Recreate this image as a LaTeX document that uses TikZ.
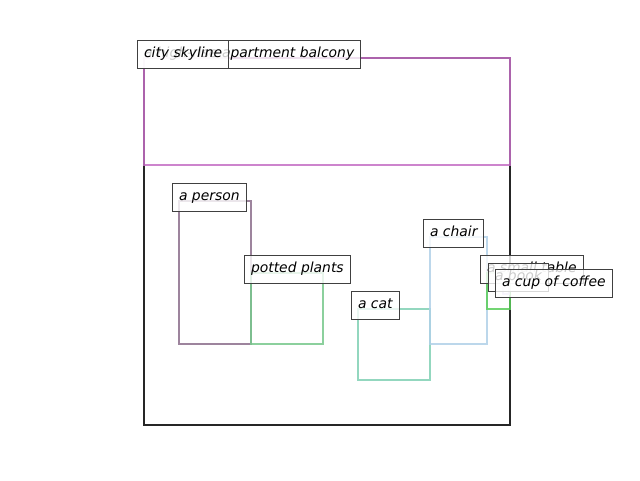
\documentclass[tikz,border=0pt]{standalone}
\usepackage{fontspec}
\setmainfont{DejaVu Sans}
\begin{document}
\begin{tikzpicture}[x=1pt,y=-1pt,
  bx/.style={line width=2.4pt, draw opacity=0.85},
  lbl/.style={draw=black!75, line width=1pt, fill=white, fill opacity=0.8, text opacity=1,
    anchor=south west, inner xsep=6.5pt, inner ysep=0pt, minimum height=28pt,
    text height=10.5pt, text depth=3pt,
    font=\fontsize{13.9}{16}\selectfont\itshape}]
\definecolor{cbalc}{RGB}{0,0,0}
\definecolor{csky}{RGB}{196,110,196}
\definecolor{cpers}{RGB}{140,110,140}
\definecolor{cplant}{RGB}{120,200,140}
\definecolor{ccat}{RGB}{128,208,180}
\definecolor{cchair}{RGB}{176,208,232}
\definecolor{ctable}{RGB}{90,206,90}
\definecolor{ccup}{RGB}{214,196,240}
\useasboundingbox (0,0) rectangle (640,480);
% boxes
\draw[bx, draw=cbalc] (144,58) rectangle (510,425);
\draw[bx, draw=csky] (144,58) rectangle (510,165);
\draw[bx, draw=cpers] (179,201) rectangle (251,344);
\draw[bx, draw=cplant] (251,273) rectangle (323,344);
\draw[bx, draw=ccat] (358,309) rectangle (430,380);
\draw[bx, draw=cchair] (430,237) rectangle (487,344);
\draw[bx, draw=ctable] (487,273) rectangle (510,309);
\draw[bx, draw=ccup] (503,287) rectangle (509,294);
% labels
\node[lbl] (lbalc) at (137,68.5) {a high-rise apartment balcony};
\node[lbl] (lsky) at (137,68.5) {city skyline};
\node[lbl] (lpers) at (172,211.5) {a person};
\node[lbl] (lplant) at (244,283.5) {potted plants};
\node[lbl] (lcat) at (351,319.5) {a cat};
\node[lbl] (lchair) at (423,247.5) {a chair};
\node[lbl] (ltable) at (480,283.5) {a small table};
\node[lbl] (lbook) at (488,291.5) {a book};
\node[lbl] (lcup) at (495,297.5) {a cup of coffee};
\end{tikzpicture}
\end{document}
